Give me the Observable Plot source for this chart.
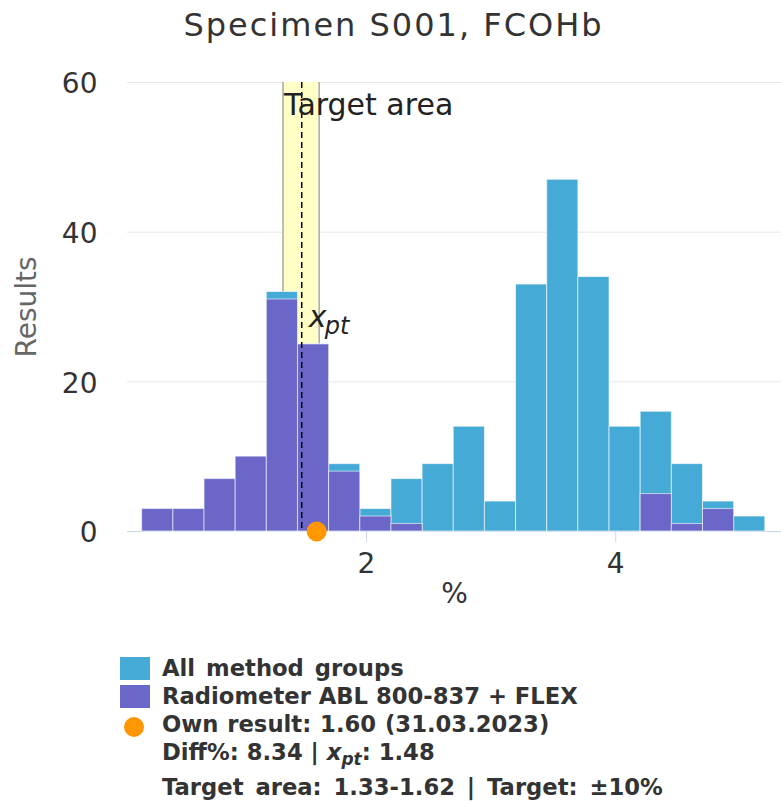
<!DOCTYPE html>
<html><head><meta charset="utf-8">
<script src="https://cdn.jsdelivr.net/npm/d3@7"></script>
<script src="https://cdn.jsdelivr.net/npm/@observablehq/plot@0.6"></script>
<style>
html,body{margin:0;padding:0;background:#fff;}
#wrap{position:relative;width:781px;height:810px;overflow:hidden;font-family:"DejaVu Sans",sans-serif;}
#title{position:absolute;left:3px;top:0;width:781px;height:50px;line-height:50px;text-align:center;font-size:32px;letter-spacing:2px;color:#333;}
#chart{position:absolute;left:0;top:50px;}
.sym{position:absolute;}
.row{position:absolute;left:162px;font-size:22.7px;font-weight:bold;line-height:28px;color:#333;white-space:nowrap;}
.row sub{font-size:0.75em;vertical-align:baseline;position:relative;top:0.3em;}
g[aria-label="y-axis label"] text{fill:#666 !important;}
</style></head>
<body><div id="wrap">
<div id="title"></div>
<div id="chart"></div>
<div id="legend"></div>
</div>
<script>
// ---- data ----
const chartTitle = "Specimen S001, FCOHb";
const binEdges = [0.2, 0.45, 0.7, 0.95, 1.2, 1.45, 1.7, 1.95, 2.2, 2.45, 2.7, 2.95, 3.2, 3.45, 3.7, 3.95, 4.2, 4.45, 4.7, 4.95, 5.2];
const allMethodGroups = [3, 3, 7, 10, 32, 25, 9, 3, 7, 9, 14, 4, 33, 47, 34, 14, 16, 9, 4, 2];
const radiometerGroup = [3, 3, 7, 10, 31, 25, 8, 2, 1, 0, 0, 0, 0, 0, 0, 0, 5, 1, 3, 0];
const xTicks = [2, 4];
const yTicks = [0, 20, 40, 60];
const xDomain = [0.082, 5.33];
const yDomain = [0, 60];
const ownResult = 1.60;
const xpt = 1.48;
const targetLow = 1.33;
const targetHigh = 1.62;
const seriesNames = ["All method groups", "Radiometer ABL 800-837 + FLEX"];
const legendLines = ["Own result: 1.60 (31.03.2023)", "Diff%: 8.34 | ", ": 1.48", "Target area: 1.33-1.62 | Target: ±10%"];

const colAll = "#45aad6", colRad = "#6a67c9", colOwn = "#ff9800";

document.getElementById("title").textContent = chartTitle;

const bins = allMethodGroups.map((v, i) => ({x1: binEdges[i], x2: binEdges[i + 1], all: v, rad: radiometerGroup[i]}));

const chart = Plot.plot({
  width: 781, height: 570,
  marginTop: 32, marginBottom: 89, marginLeft: 127, marginRight: 0,
  style: {fontFamily: "DejaVu Sans", fontSize: "28px", background: "transparent"},
  x: {domain: xDomain},
  y: {domain: yDomain},
  marks: [
    Plot.gridY(yTicks, {stroke: "#e6e6e6", strokeOpacity: 1}),
    Plot.rect([{x1: targetLow, x2: targetHigh}], {x1: "x1", x2: "x2", fill: "#ffffc6"}),
    Plot.ruleX([targetLow, targetHigh], {stroke: "#a8a8a8", strokeWidth: 1.5}),
    Plot.ruleY([0], {stroke: "#ccd6eb"}),
    Plot.rectY(bins, {x1: "x1", x2: "x2", y: "all", fill: colAll, stroke: "#fff", strokeOpacity: 0.6}),
    Plot.rectY(bins.filter(d => d.rad > 0), {x1: "x1", x2: "x2", y: "rad", fill: colRad, stroke: "#fff", strokeOpacity: 0.6}),
    Plot.ruleX([xpt], {stroke: "#000", strokeWidth: 1.5, strokeDasharray: "6,4"}),
    Plot.dot([{x: ownResult, y: 0}], {x: "x", y: "y", r: 10, fill: colOwn, stroke: null}),
    Plot.text([{x: targetLow, t: "Target area"}], {x: "x", text: "t", frameAnchor: "top", textAnchor: "start", lineAnchor: "bottom", dx: 1, dy: 32, fontSize: 30, fill: "#222"}),
    Plot.text([{x: xpt, t: "x"}], {x: "x", text: "t", frameAnchor: "top", textAnchor: "start", lineAnchor: "bottom", dx: 7, dy: 244, fontSize: 30, fontStyle: "italic", fill: "#222"}),
    Plot.text([{x: xpt, t: "pt"}], {x: "x", text: "t", frameAnchor: "top", textAnchor: "start", lineAnchor: "bottom", dx: 23, dy: 251, fontSize: 24, fontStyle: "italic", fill: "#222"}),
    Plot.axisX({ticks: xTicks, tickFormat: d => String(d), tickSize: 11, tickPadding: 11, stroke: "#ccd6eb", fill: "#333", label: "%", labelAnchor: "center", labelOffset: 71, labelArrow: "none"}),
    Plot.axisY({ticks: yTicks, tickFormat: d => String(d), tickSize: 0, tickPadding: 30, fill: "#333", dy: 2, label: "Results", labelAnchor: "center", labelOffset: 111, labelArrow: "none"})
  ]
});
document.getElementById("chart").appendChild(chart);

// ---- legend ----
const lg = document.getElementById("legend");
function add(html, cls, css) { const d = document.createElement("div"); d.className = cls; d.style.cssText = css; d.innerHTML = html; lg.appendChild(d); }
add("", "sym", `left:120px;top:657px;width:30px;height:23px;background:${colAll};`);
add("", "sym", `left:120px;top:685px;width:30px;height:23px;background:${colRad};`);
add("", "sym", `left:124px;top:717px;width:20px;height:20px;border-radius:50%;background:${colOwn};`);
add(seriesNames[0], "row", "top:654px;word-spacing:3px;");
add(seriesNames[1], "row", "top:682px;");
add(legendLines[0], "row", "top:710px;word-spacing:1px;");
add(legendLines[1] + "<i>x<sub>pt</sub></i>" + legendLines[2], "row", "top:738px;");
add(legendLines[3], "row", "top:773px;word-spacing:4px;");
</script>
</body></html>
